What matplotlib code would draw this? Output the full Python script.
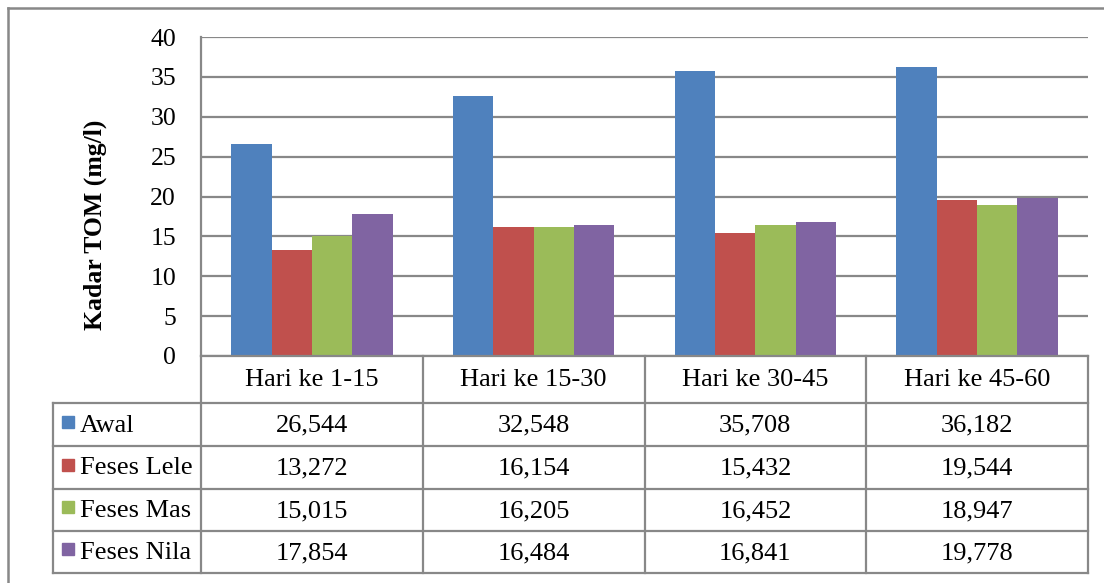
#!/usr/bin/env python3
"""
Kadar TOM per periode hari, grouped bars with an Excel-style data table below.
"""

import numpy as np
import matplotlib
matplotlib.use("Agg")
import matplotlib.pyplot as plt
from matplotlib.lines import Line2D
from matplotlib.patches import Rectangle

# data
periods = ["Hari ke 1-15", "Hari ke 15-30", "Hari ke 30-45", "Hari ke 45-60"]
series_names = ["Awal", "Feses Lele", "Feses Mas", "Feses Nila"]
awal = [26.544, 32.548, 35.708, 36.182]
feses_lele = [13.272, 16.154, 15.432, 19.544]
feses_mas = [15.015, 16.205, 16.452, 18.947]
feses_nila = [17.854, 16.484, 16.841, 19.778]
series_values = [awal, feses_lele, feses_mas, feses_nila]
colors = ["#4F81BD", "#C0504D", "#9BBB59", "#8064A2"]

y_ticks = [0, 5, 10, 15, 20, 25, 30, 35, 40]
y_label = "Kadar TOM (mg/l)"

W, H = 1104, 583
plt.rcParams["font.family"] = ["Liberation Serif", "DejaVu Serif"]
GRID = "#888888"


def fx(x):
    return x / W


def fy(y):
    return 1 - y / H


def hline(fig, x0, x1, y, lw=1.6, color=GRID):
    fig.add_artist(Line2D([fx(x0), fx(x1)], [fy(y), fy(y)],
                          transform=fig.transFigure, color=color, lw=lw))


def vline(fig, x, y0, y1, lw=1.6, color=GRID):
    fig.add_artist(Line2D([fx(x), fx(x)], [fy(y0), fy(y1)],
                          transform=fig.transFigure, color=color, lw=lw))


fig = plt.figure(figsize=(W / 100, H / 100), dpi=100)

# plot area in pixels
left, right, top, bottom = 201, 1088, 37, 356
ax = fig.add_axes([fx(left), fy(bottom), fx(right - left), (bottom - top) / H])

x = np.arange(len(periods))
bar_w = 0.182
n = len(series_names)
for i, (name, vals) in enumerate(zip(series_names, series_values)):
    offs = (i - (n - 1) / 2) * bar_w
    ax.bar(x + offs, vals, width=bar_w, color=colors[i], label=name, zorder=3)

ax.set_xlim(-0.5, len(periods) - 0.5)
ax.set_ylim(0, 40)
ax.set_yticks(y_ticks)
ax.set_xticks([])
ax.yaxis.grid(True, color=GRID, lw=1.6, zorder=0)
ax.tick_params(axis="y", length=0, pad=18, labelsize=18.5)
for s in ["top", "right", "bottom"]:
    ax.spines[s].set_visible(False)
ax.spines["left"].set_color(GRID)
ax.spines["left"].set_linewidth(1.6)

fig.text(fx(95), fy(225), y_label, rotation=90, ha="center", va="center",
         fontsize=18.5, fontweight="bold")

# data table under the plot
col_w = (right - left) / len(periods)
col_edges = [left + k * col_w for k in range(len(periods) + 1)]
row_edges = [356, 403, 446, 489, 531, 573]
label_left = 53

hline(fig, left, col_edges[-1], row_edges[0])
for y in row_edges[1:]:
    hline(fig, label_left, col_edges[-1], y)
vline(fig, label_left, row_edges[1], row_edges[-1])
for xe in col_edges:
    vline(fig, xe, row_edges[0], row_edges[-1])

for j, p in enumerate(periods):
    cx = (col_edges[j] + col_edges[j + 1]) / 2
    cy = (row_edges[0] + row_edges[1]) / 2
    fig.text(fx(cx), fy(cy + 1), p, ha="center", va="center", fontsize=19)

for i, (name, vals) in enumerate(zip(series_names, series_values)):
    cy = (row_edges[i + 1] + row_edges[i + 2]) / 2
    fig.add_artist(Rectangle((fx(62), fy(cy + 3)), fx(12), 12 / H,
                             transform=fig.transFigure, color=colors[i]))
    fig.text(fx(80), fy(cy + 1), name, ha="left", va="center", fontsize=19)
    for j, v in enumerate(vals):
        cx = (col_edges[j] + col_edges[j + 1]) / 2
        txt = f"{v:.3f}".replace(".", ",")
        fig.text(fx(cx), fy(cy + 1), txt, ha="center", va="center", fontsize=19)

# outer chart frame
hline(fig, 8, W, 8, lw=1.8)
vline(fig, 8, 8, H, lw=1.8)

fig.savefig("out.png", dpi=100)
